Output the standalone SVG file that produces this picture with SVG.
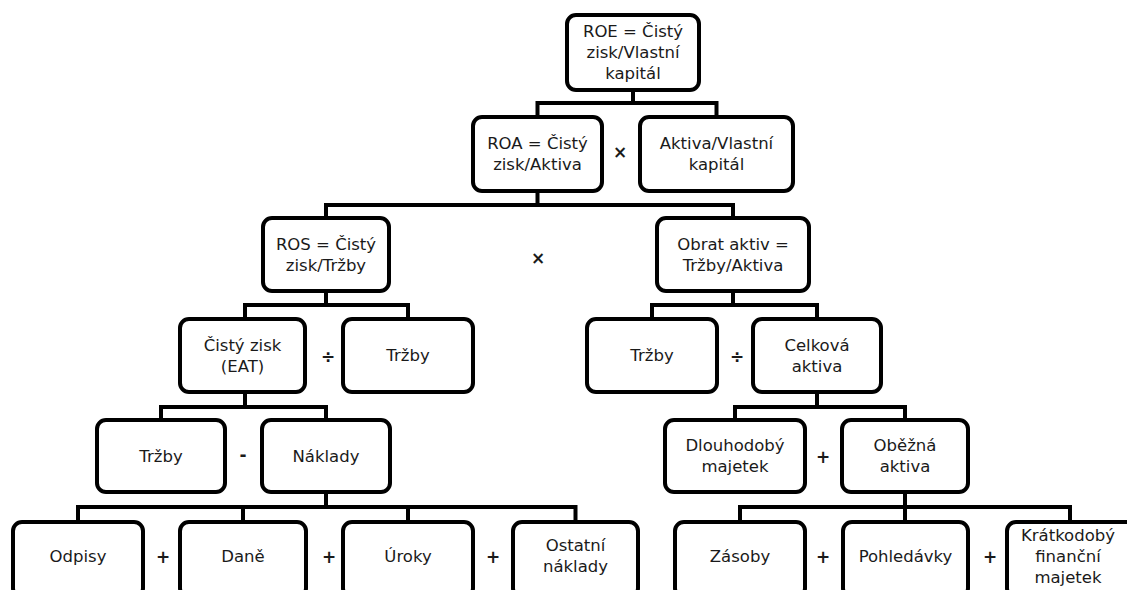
<svg xmlns="http://www.w3.org/2000/svg" width="1127" height="590" viewBox="0 0 1127 590">
<style>
.box{fill:#fff;stroke:#000;stroke-width:4}
.con{fill:none;stroke:#000;stroke-width:4;stroke-linejoin:miter}
text{font-family:"DejaVu Sans",Verdana,sans-serif;font-size:16.5px;fill:#1a1a1a;text-anchor:middle;dominant-baseline:central}
.op{font-size:17px;font-weight:bold}
</style>
<rect width="1127" height="590" fill="#fff"/>
<g id="connectors" class="con">
<path d="M633 90V103M537.5 117V103H716.5V117"/>
<path d="M537.5 191V205M326 218V205H733V218"/>
<path d="M326 291V305M245 319V305H408V319"/>
<path d="M733 291V305M652 319V305H817V319"/>
<path d="M245 392V407M161 420V407H326V420"/>
<path d="M817 392V407M735 420V407H905V420"/>
<path d="M326 492V507M78 522V507H575.5V522M243 507V522M408 507V522"/>
<path d="M905 492V507M740 522V507H1070V522M905 507V522"/>
</g>
<g id="roe"><rect class="box" x="567" y="15" width="132" height="75" rx="9"/><text x="633" y="31.5">ROE = Čistý</text><text x="633" y="52.5">zisk/Vlastní</text><text x="633" y="73.5">kapitál</text></g>
<g id="roa"><rect class="box" x="473" y="117" width="129" height="74" rx="9"/><text x="537.5" y="143.5">ROA = Čistý</text><text x="537.5" y="164.5">zisk/Aktiva</text></g>
<g id="avk"><rect class="box" x="640" y="117" width="153" height="74" rx="9"/><text x="716.5" y="143.5">Aktiva/Vlastní</text><text x="716.5" y="164.5">kapitál</text></g>
<g id="ros"><rect class="box" x="263" y="218" width="126" height="73" rx="9"/><text x="326" y="244">ROS = Čistý</text><text x="326" y="265">zisk/Tržby</text></g>
<g id="obrat"><rect class="box" x="657" y="218" width="152" height="73" rx="9"/><text x="733" y="244">Obrat aktiv =</text><text x="733" y="265">Tržby/Aktiva</text></g>
<g id="eat"><rect class="box" x="180" y="319" width="125" height="73" rx="9"/><text x="242.5" y="345">Čistý zisk</text><text x="242.5" y="366">(EAT)</text></g>
<g id="trzby1"><rect class="box" x="343" y="319" width="130" height="73" rx="9"/><text x="408" y="355.5">Tržby</text></g>
<g id="trzby2"><rect class="box" x="587" y="319" width="130" height="73" rx="9"/><text x="652" y="355.5">Tržby</text></g>
<g id="celkova"><rect class="box" x="753" y="319" width="128" height="73" rx="9"/><text x="817" y="345">Celková</text><text x="817" y="366">aktiva</text></g>
<g id="trzby3"><rect class="box" x="97" y="420" width="128" height="72" rx="9"/><text x="161" y="456">Tržby</text></g>
<g id="naklady"><rect class="box" x="262" y="420" width="128" height="72" rx="9"/><text x="326" y="456">Náklady</text></g>
<g id="dlouhodoby"><rect class="box" x="665" y="420" width="140" height="72" rx="9"/><text x="735" y="445.5">Dlouhodobý</text><text x="735" y="466.5">majetek</text></g>
<g id="obezna"><rect class="box" x="842" y="420" width="126" height="72" rx="9"/><text x="905" y="445.5">Oběžná</text><text x="905" y="466.5">aktiva</text></g>
<g id="odpisy"><rect class="box" x="13" y="522" width="130" height="75" rx="9"/><text x="78" y="556">Odpisy</text></g>
<g id="dane"><rect class="box" x="180" y="522" width="126" height="75" rx="9"/><text x="243" y="556">Daně</text></g>
<g id="uroky"><rect class="box" x="343" y="522" width="130" height="75" rx="9"/><text x="408" y="556">Úroky</text></g>
<g id="ostatni"><rect class="box" x="513" y="522" width="125" height="75" rx="9"/><text x="575.5" y="545.5">Ostatní</text><text x="575.5" y="566.5">náklady</text></g>
<g id="zasoby"><rect class="box" x="675" y="522" width="130" height="75" rx="9"/><text x="740" y="556">Zásoby</text></g>
<g id="pohledavky"><rect class="box" x="843" y="522" width="125" height="75" rx="9"/><text x="905.5" y="556">Pohledávky</text></g>
<g id="kratkodoby"><rect class="box" x="1007" y="522" width="128" height="75" rx="9"/><text x="1068" y="535">Krátkodobý</text><text x="1068" y="556">finanční</text><text x="1068" y="577">majetek</text></g>
<g id="operators">
<text class="op" x="620" y="152">×</text>
<text class="op" x="538" y="258">×</text>
<text class="op" x="328" y="357">÷</text>
<text class="op" x="737" y="357">÷</text>
<text class="op" x="243" y="455">-</text>
<text class="op" x="823" y="457">+</text>
<text class="op" x="163" y="557">+</text>
<text class="op" x="329" y="557">+</text>
<text class="op" x="493" y="557">+</text>
<text class="op" x="823" y="557">+</text>
<text class="op" x="990" y="557">+</text>
</g>
</svg>
